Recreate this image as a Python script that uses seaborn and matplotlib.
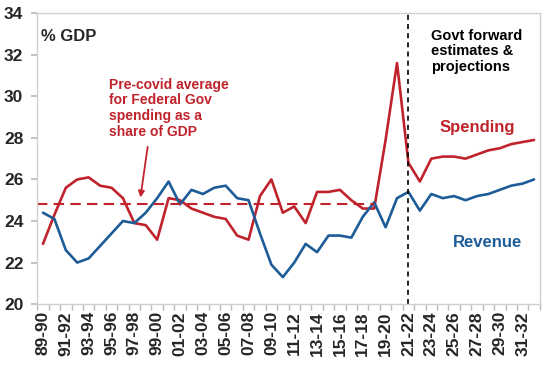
import numpy as np
import pandas as pd
import matplotlib
matplotlib.use("Agg")
import matplotlib.pyplot as plt
import seaborn as sns

# Financial years 89-90 .. 32-33
years = [f"{(y) % 100:02d}-{(y + 1) % 100:02d}" for y in range(89, 133)]

spending = [22.9, 24.3, 25.6, 26.0, 26.1, 25.7, 25.6, 25.1, 23.9, 23.8,
            23.1, 25.1, 25.0, 24.6, 24.4, 24.2, 24.1, 23.3, 23.1, 25.2,
            26.0, 24.4, 24.7, 23.9, 25.4, 25.4, 25.5, 25.0, 24.6, 24.6,
            27.9, 31.6, 26.8, 25.9, 27.0, 27.1, 27.1, 27.0, 27.2, 27.4,
            27.5, 27.7, 27.8, 27.9]

revenue = [24.4, 24.1, 22.6, 22.0, 22.2, 22.8, 23.4, 24.0, 23.9, 24.4,
           25.1, 25.9, 24.8, 25.5, 25.3, 25.6, 25.7, 25.1, 25.0, 23.4,
           21.9, 21.3, 22.0, 22.9, 22.5, 23.3, 23.3, 23.2, 24.2, 24.9,
           23.7, 25.1, 25.4, 24.5, 25.3, 25.1, 25.2, 25.0, 25.2, 25.3,
           25.5, 25.7, 25.8, 26.0]

precovid_avg = 24.8
precovid_end = "18-19"
forecast_start = "21-22"

RED = "#C0232C"
BLUE = "#1D5C97"

df = pd.DataFrame({"year": years, "Spending": spending, "Revenue": revenue})
df["idx"] = np.arange(len(df))

sns.set_theme(style="white")
plt.rcParams["font.family"] = ["Liberation Sans", "DejaVu Sans"]
plt.rcParams["font.weight"] = "bold"

fig = plt.figure(figsize=(5.48, 3.66), dpi=100)
ax = fig.add_axes([0.068, 0.169, 0.917, 0.795])

sns.lineplot(data=df, x="idx", y="Spending", color=RED, lw=1.9, ax=ax)
sns.lineplot(data=df, x="idx", y="Revenue", color=BLUE, lw=1.9, ax=ax)

# pre-covid average of spending
end_i = years.index(precovid_end)
ax.hlines(precovid_avg, -0.5, end_i, colors=RED, linestyles=(0, (5, 3)), lw=1.5)

# start of forward estimates
fc_i = years.index(forecast_start)
ax.axvline(fc_i, color="black", ls=(0, (3, 2.5)), lw=1.2)

ax.set_xlim(-0.5, len(years) - 0.5)
ax.set_ylim(20, 34)
ax.set_yticks(range(20, 35, 2))
ax.set_xticks(df["idx"][::2])
ax.set_xticklabels(df["year"][::2], rotation=90, fontsize=12.5, fontweight="bold")
ax.set_xticks(np.arange(-0.5, len(years), 1), minor=True)
ax.tick_params(axis="x", which="major", length=0, pad=5)
ax.tick_params(axis="x", which="minor", length=4, color="#BBBBBB", bottom=True)
ax.tick_params(axis="y", length=4, color="#BBBBBB", left=True, labelsize=12.5, pad=6)
for lab in ax.get_yticklabels():
    lab.set_fontweight("bold")
ax.set_xlabel("")
ax.set_ylabel("")
for s in ax.spines.values():
    s.set_color("#D0D0D0")
    s.set_linewidth(1.0)

ax.text(-0.2, 32.9, "% GDP", fontsize=12, fontweight="bold", va="center", ha="left")
ax.text(5.8, 30.9, "Pre-covid average\nfor Federal Gov\nspending as a\nshare of GDP",
        color=RED, fontsize=10, fontweight="bold", va="top", ha="left", linespacing=1.15)
ax.annotate("", xy=(8.5, 25.0), xytext=(9.2, 27.7),
            arrowprops=dict(arrowstyle="-|>", color=RED, lw=1.3, mutation_scale=9))
ax.text(34.0, 33.25, "Govt forward\nestimates &\nprojections", color="black",
        fontsize=10.5, fontweight="bold", va="top", ha="left", linespacing=1.15)
ax.text(38.0, 28.5, "Spending", color=RED, fontsize=12, fontweight="bold",
        va="center", ha="center")
ax.text(38.9, 22.95, "Revenue", color=BLUE, fontsize=12, fontweight="bold",
        va="center", ha="center")

fig.savefig("out.png", dpi=100)
